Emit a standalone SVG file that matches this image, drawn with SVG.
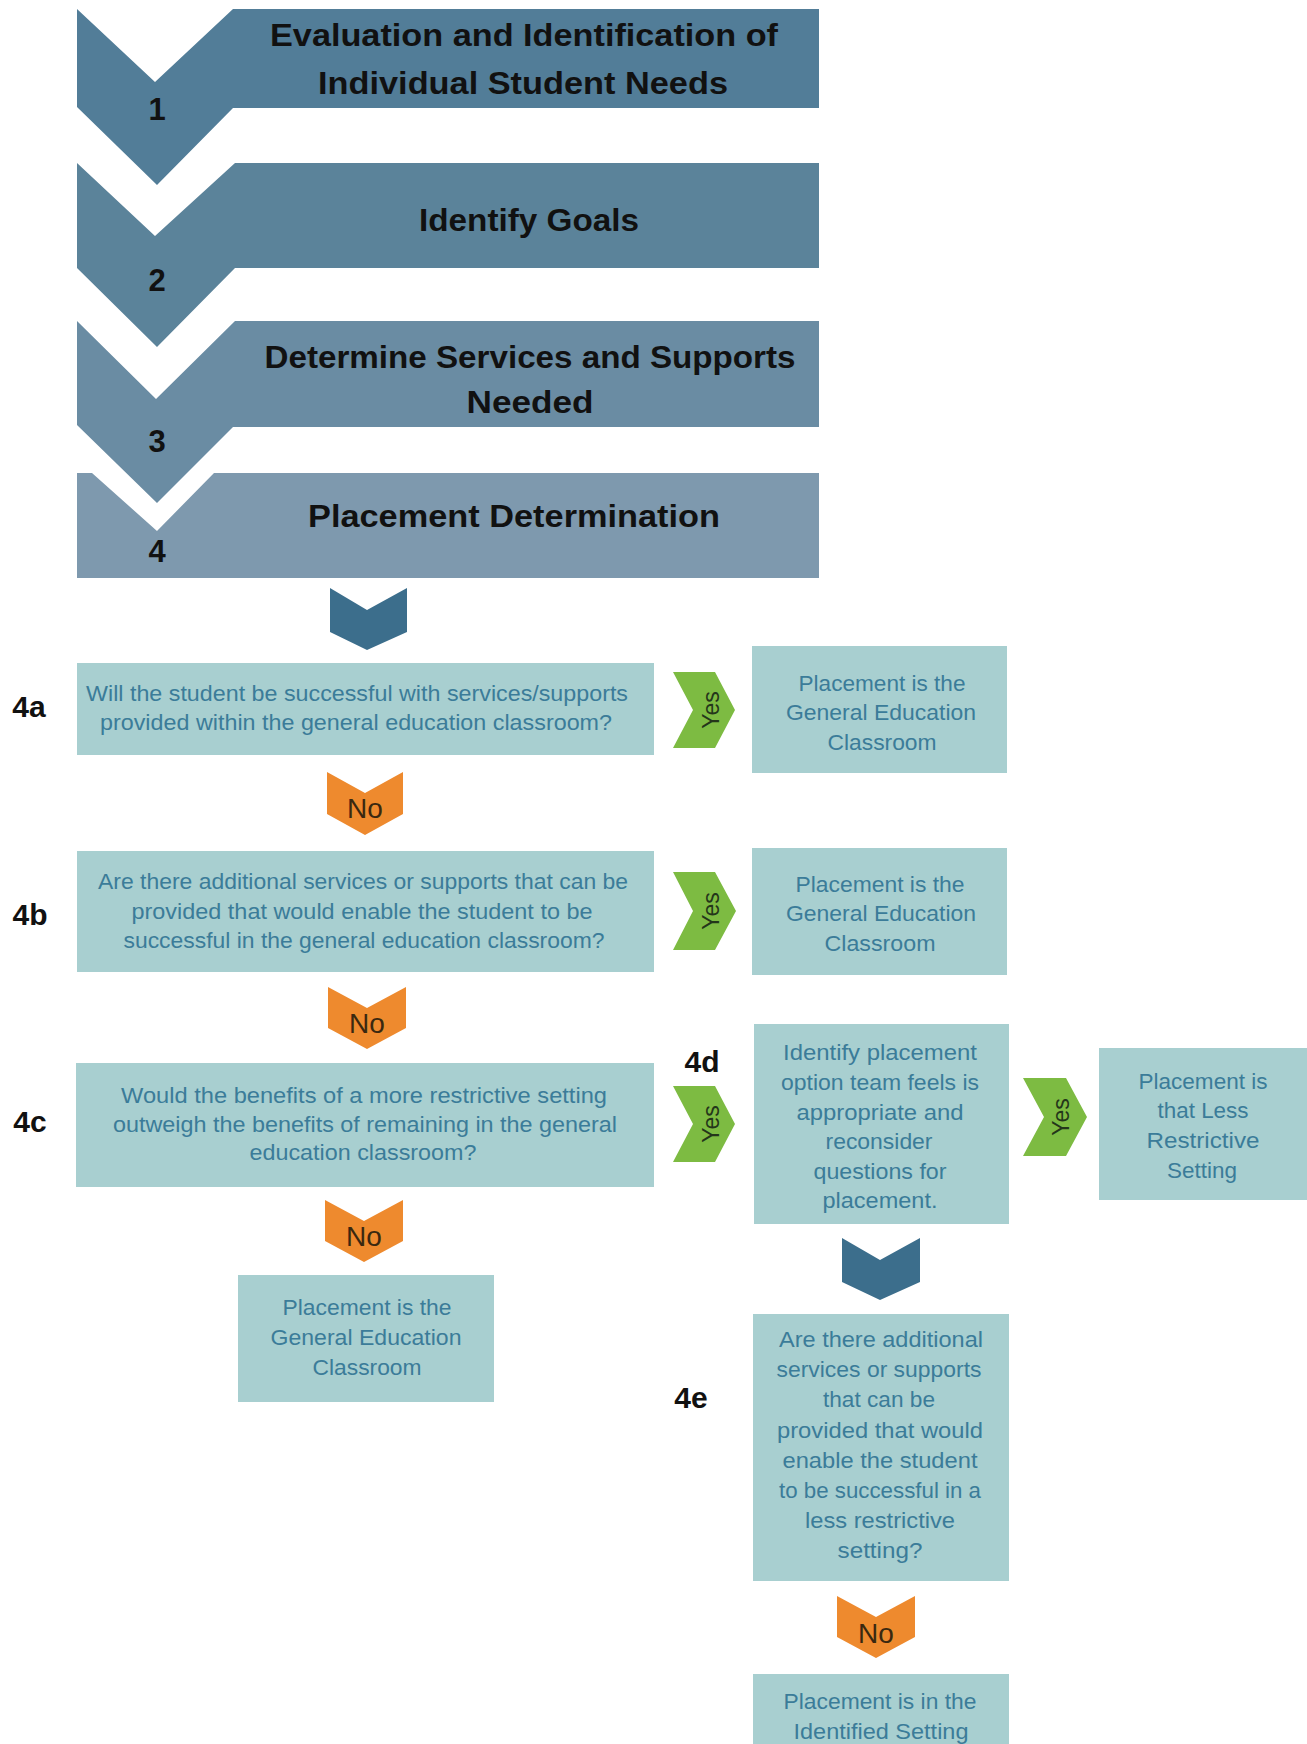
<svg xmlns="http://www.w3.org/2000/svg" width="1307" height="1744" viewBox="0 0 1307 1744">
<style>
.hd{font-family:"Liberation Sans",Arial,sans-serif;font-weight:bold;font-size:32px;fill:#111;text-anchor:middle}
.num{font-family:"Liberation Sans",Arial,sans-serif;font-weight:bold;font-size:31px;fill:#111;text-anchor:middle}
.lbl{font-family:"Liberation Sans",Arial,sans-serif;font-weight:bold;font-size:30px;fill:#111;text-anchor:middle}
.box{fill:#a8cfd0}
.bt{font-family:"Liberation Sans",Arial,sans-serif;font-size:22px;fill:#3b7c99;text-anchor:middle}
.dark{fill:#3c6e8c}
.no{fill:#ee8a2e}
.yes{fill:#7dbb42}
.not{font-family:"Liberation Sans",Arial,sans-serif;font-size:28px;fill:#3a2810;text-anchor:middle}
.yt{font-family:"Liberation Sans",Arial,sans-serif;font-size:23px;fill:#24361a;text-anchor:middle}
</style>
<rect width="1307" height="1744" fill="#ffffff"/>

<g id="step1">
<polygon points="77,9 155,82 233,9 819,9 819,108 233,108 157,185 77,107" fill="#527d98"/>
<text class="hd" x="524" y="46" textLength="508" lengthAdjust="spacingAndGlyphs">Evaluation and Identification of</text>
<text class="hd" x="523" y="94" textLength="410" lengthAdjust="spacingAndGlyphs">Individual Student Needs</text>
<text class="num" x="157" y="120">1</text>
</g>
<g id="step2">
<polygon points="77,163 155,236 235,163 819,163 819,268 235,268 157,347 77,268" fill="#5b839a"/>
<text class="hd" x="529" y="231" textLength="220" lengthAdjust="spacingAndGlyphs">Identify Goals</text>
<text class="num" x="157" y="291">2</text>
</g>
<g id="step3">
<polygon points="77,321 156,399 235,321 819,321 819,427 233,427 157,503 77,425" fill="#6a8ca3"/>
<text class="hd" x="530" y="368" textLength="531" lengthAdjust="spacingAndGlyphs">Determine Services and Supports</text>
<text class="hd" x="530" y="413" textLength="127" lengthAdjust="spacingAndGlyphs">Needed</text>
<text class="num" x="157" y="452">3</text>
</g>
<g id="step4">
<polygon points="77,473 92,473 157,531 214,473 819,473 819,578 77,578" fill="#7e99ae"/>
<text class="hd" x="514" y="527" textLength="412" lengthAdjust="spacingAndGlyphs">Placement Determination</text>
<text class="num" x="157" y="562">4</text>
</g>

<g id="connectors">
<polygon class="dark" points="330,588 367,610 407,588 407,632 367,650 330,632"/>
<polygon class="yes" points="673,672 715,672 735,710 715,748 673,748 693,710"/>
<text class="yt" transform="translate(719,710) rotate(-90)">Yes</text>
<polygon class="no" points="327,772 365,793 403,772 403,814 365,835 327,814"/>
<text class="not" x="365" y="818">No</text>
<polygon class="yes" points="673,872 715,872 736,911 715,950 673,950 693,911"/>
<text class="yt" transform="translate(719,911) rotate(-90)">Yes</text>
<polygon class="no" points="328,987 367,1008 406,987 406,1028 367,1049 328,1028"/>
<text class="not" x="367" y="1033">No</text>
<polygon class="yes" points="673,1086 715,1086 735,1124 715,1162 673,1162 693,1124"/>
<text class="yt" transform="translate(719,1124) rotate(-90)">Yes</text>
<polygon class="yes" points="1023,1078 1066,1078 1087,1117 1066,1156 1023,1156 1044,1117"/>
<text class="yt" transform="translate(1069,1117) rotate(-90)">Yes</text>
<polygon class="no" points="325,1200 364,1221 403,1200 403,1241 364,1262 325,1241"/>
<text class="not" x="364" y="1246">No</text>
<polygon class="dark" points="842,1238 880,1260 920,1238 920,1282 880,1300 842,1282"/>
<polygon class="no" points="837,1596 876,1617 915,1596 915,1637 876,1658 837,1637"/>
<text class="not" x="876" y="1643">No</text>
</g>

<g id="q4a">
<text class="lbl" x="29" y="717">4a</text>
<rect class="box" x="77" y="663" width="577" height="92"/>
<text class="bt" x="357" y="701" textLength="542" lengthAdjust="spacingAndGlyphs">Will the student be successful with services/supports</text>
<text class="bt" x="356" y="730" textLength="512" lengthAdjust="spacingAndGlyphs">provided within the general education classroom?</text>
</g>
<g id="r4a">
<rect class="box" x="752" y="646" width="255" height="127"/>
<text class="bt" x="882" y="691" textLength="167" lengthAdjust="spacingAndGlyphs">Placement is the</text>
<text class="bt" x="881" y="720" textLength="190" lengthAdjust="spacingAndGlyphs">General Education</text>
<text class="bt" x="882" y="750" textLength="109" lengthAdjust="spacingAndGlyphs">Classroom</text>
</g>
<g id="q4b">
<text class="lbl" x="30" y="925">4b</text>
<rect class="box" x="77" y="851" width="577" height="121"/>
<text class="bt" x="363" y="889" textLength="530" lengthAdjust="spacingAndGlyphs">Are there additional services or supports that can be</text>
<text class="bt" x="362" y="919" textLength="461" lengthAdjust="spacingAndGlyphs">provided that would enable the student to be</text>
<text class="bt" x="364" y="948" textLength="481" lengthAdjust="spacingAndGlyphs">successful in the general education classroom?</text>
</g>
<g id="r4b">
<rect class="box" x="752" y="848" width="255" height="127"/>
<text class="bt" x="880" y="892" textLength="169" lengthAdjust="spacingAndGlyphs">Placement is the</text>
<text class="bt" x="881" y="921" textLength="190" lengthAdjust="spacingAndGlyphs">General Education</text>
<text class="bt" x="880" y="951" textLength="111" lengthAdjust="spacingAndGlyphs">Classroom</text>
</g>
<g id="q4c">
<text class="lbl" x="30" y="1132">4c</text>
<rect class="box" x="76" y="1063" width="578" height="124"/>
<text class="bt" x="364" y="1103" textLength="486" lengthAdjust="spacingAndGlyphs">Would the benefits of a more restrictive setting</text>
<text class="bt" x="365" y="1132" textLength="504" lengthAdjust="spacingAndGlyphs">outweigh the benefits of remaining in the general</text>
<text class="bt" x="363" y="1160" textLength="227" lengthAdjust="spacingAndGlyphs">education classroom?</text>
</g>
<g id="r4c">
<rect class="box" x="238" y="1275" width="256" height="127"/>
<text class="bt" x="367" y="1315" textLength="169" lengthAdjust="spacingAndGlyphs">Placement is the</text>
<text class="bt" x="366" y="1345" textLength="191" lengthAdjust="spacingAndGlyphs">General Education</text>
<text class="bt" x="367" y="1375" textLength="109" lengthAdjust="spacingAndGlyphs">Classroom</text>
</g>
<g id="q4d">
<text class="lbl" x="702" y="1072">4d</text>
<rect class="box" x="754" y="1024" width="255" height="200"/>
<text class="bt" x="880" y="1060" textLength="194" lengthAdjust="spacingAndGlyphs">Identify placement</text>
<text class="bt" x="880" y="1090" textLength="198" lengthAdjust="spacingAndGlyphs">option team feels is</text>
<text class="bt" x="880" y="1120" textLength="167" lengthAdjust="spacingAndGlyphs">appropriate and</text>
<text class="bt" x="879" y="1149" textLength="107" lengthAdjust="spacingAndGlyphs">reconsider</text>
<text class="bt" x="880" y="1179" textLength="133" lengthAdjust="spacingAndGlyphs">questions for</text>
<text class="bt" x="880" y="1208" textLength="115" lengthAdjust="spacingAndGlyphs">placement.</text>
</g>
<g id="r4d">
<rect class="box" x="1099" y="1048" width="208" height="152"/>
<text class="bt" x="1203" y="1089" textLength="129" lengthAdjust="spacingAndGlyphs">Placement is</text>
<text class="bt" x="1203" y="1118" textLength="91" lengthAdjust="spacingAndGlyphs">that Less</text>
<text class="bt" x="1203" y="1148" textLength="113" lengthAdjust="spacingAndGlyphs">Restrictive</text>
<text class="bt" x="1202" y="1178" textLength="70" lengthAdjust="spacingAndGlyphs">Setting</text>
</g>
<g id="q4e">
<text class="lbl" x="691" y="1408">4e</text>
<rect class="box" x="753" y="1314" width="256" height="267"/>
<text class="bt" x="881" y="1347" textLength="204" lengthAdjust="spacingAndGlyphs">Are there additional</text>
<text class="bt" x="879" y="1377" textLength="205" lengthAdjust="spacingAndGlyphs">services or supports</text>
<text class="bt" x="879" y="1407" textLength="112" lengthAdjust="spacingAndGlyphs">that can be</text>
<text class="bt" x="880" y="1438" textLength="206" lengthAdjust="spacingAndGlyphs">provided that would</text>
<text class="bt" x="880" y="1468" textLength="195" lengthAdjust="spacingAndGlyphs">enable the student</text>
<text class="bt" x="880" y="1498" textLength="202" lengthAdjust="spacingAndGlyphs">to be successful in a</text>
<text class="bt" x="880" y="1528" textLength="150" lengthAdjust="spacingAndGlyphs">less restrictive</text>
<text class="bt" x="880" y="1558" textLength="85" lengthAdjust="spacingAndGlyphs">setting?</text>
</g>
<g id="r4e">
<rect class="box" x="753" y="1674" width="256" height="70"/>
<text class="bt" x="880" y="1709" textLength="193" lengthAdjust="spacingAndGlyphs">Placement is in the</text>
<text class="bt" x="881" y="1739" textLength="175" lengthAdjust="spacingAndGlyphs">Identified Setting</text>
</g>
</svg>
